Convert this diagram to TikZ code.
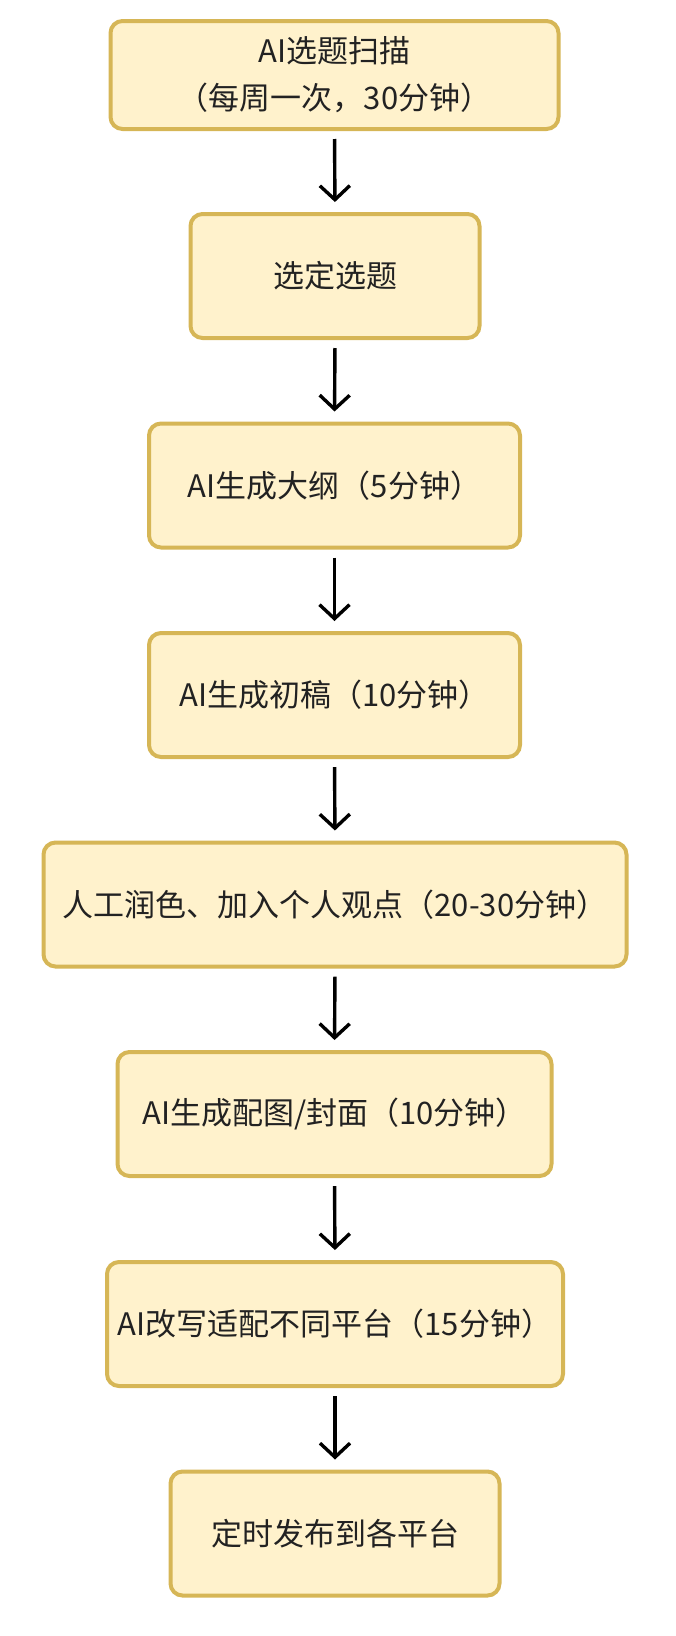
\documentclass[tikz,border=0pt]{standalone}
\usepackage{fontspec}
\setmainfont{Noto Sans CJK SC}
\usetikzlibrary{arrows.meta}
\definecolor{boxfill}{HTML}{FFF2CC}
\definecolor{boxline}{HTML}{D6B656}
\definecolor{txt}{HTML}{222222}
\begin{document}
\begin{tikzpicture}[x=1pt,y=-1pt,
  stepbox/.style={draw=boxline, fill=boxfill, line width=4pt, rounded corners=12pt,
    text=txt, font=\fontsize{31}{47}\selectfont, align=center, inner sep=0pt},
  flow/.style={line width=3.4pt, -{Straight Barb[length=14pt,width=30pt]},
    shorten <=8pt, shorten >=10pt}]
\useasboundingbox (0,0) rectangle (676,1636);
\node[stepbox, minimum width=448pt, minimum height=108pt] (n1) at (334.5,75) {AI选题扫描\\（每周一次，30分钟）};
\node[stepbox, minimum width=289pt, minimum height=124pt] (n2) at (335,276) {选定选题};
\node[stepbox, minimum width=371pt, minimum height=124pt] (n3) at (334.5,485.5) {AI生成大纲（5分钟）};
\node[stepbox, minimum width=371pt, minimum height=124pt] (n4) at (334.5,695) {AI生成初稿（10分钟）};
\node[stepbox, minimum width=583pt, minimum height=124pt] (n5) at (335,904.5) {人工润色、加入个人观点（20-30分钟）};
\node[stepbox, minimum width=434pt, minimum height=124pt] (n6) at (334.5,1114) {AI生成配图/封面（10分钟）};
\node[stepbox, minimum width=456pt, minimum height=124pt] (n7) at (335,1324) {AI改写适配不同平台（15分钟）};
\node[stepbox, minimum width=329pt, minimum height=124pt] (n8) at (335,1533.5) {定时发布到各平台};
\foreach \a/\b in {n1/n2,n2/n3,n3/n4,n4/n5,n5/n6,n6/n7,n7/n8}
  \draw[flow] (\a.south) -- (\b.north);
\end{tikzpicture}
\end{document}
